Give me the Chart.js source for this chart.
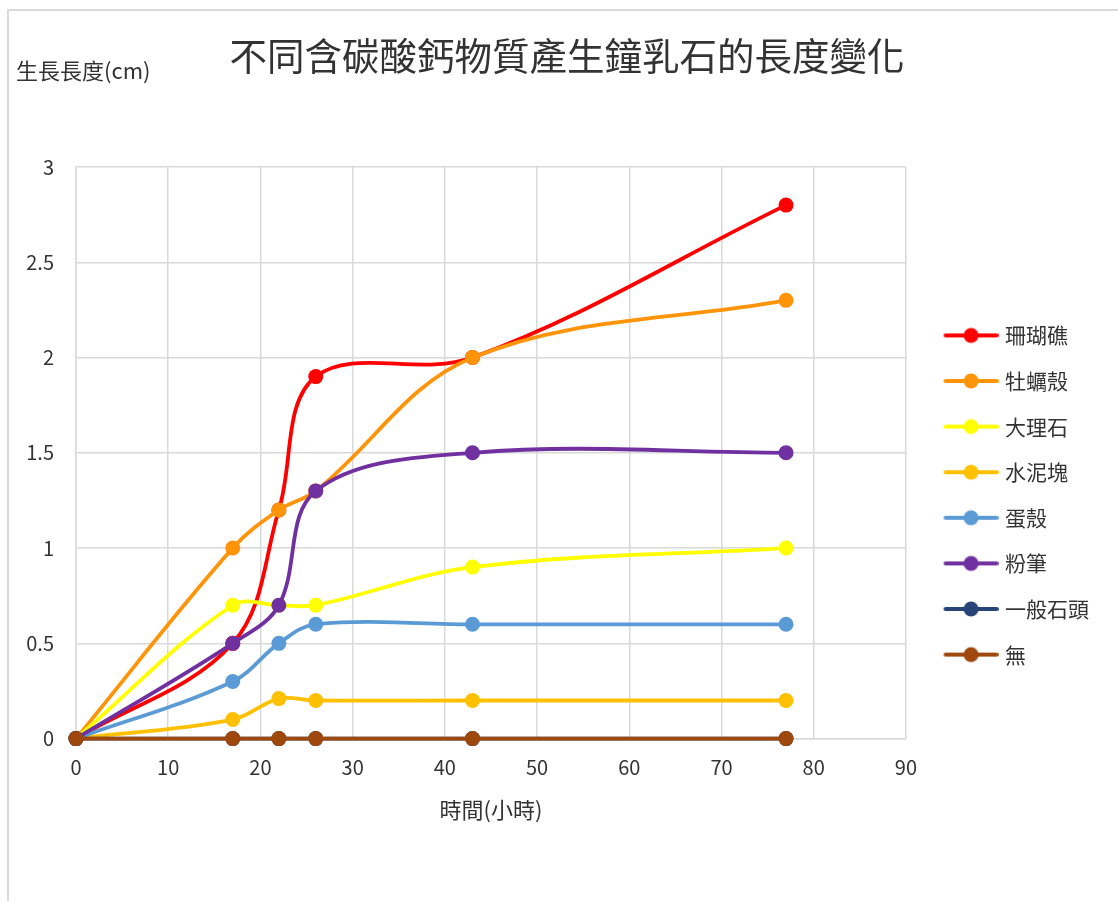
<!DOCTYPE html>
<html>
<head>
<meta charset="utf-8">
<script src="https://cdn.jsdelivr.net/npm/chart.js@4.4.0/dist/chart.umd.min.js"></script>
<style>
  body { margin: 0; background: #fff; }
  #wrap { width: 1118px; height: 901px; position: relative; }
</style>
</head>
<body>
<div id="wrap"><canvas id="chart"></canvas></div>
<script>
const hours = [0, 17, 22, 26, 43, 77];
const seriesNames = ['珊瑚礁', '牡蠣殼', '大理石', '水泥塊', '蛋殼', '粉筆', '一般石頭', '無'];
const coral = [0, 0.5, 1.2, 1.9, 2.0, 2.8];
const oyster = [0, 1.0, 1.2, 1.3, 2.0, 2.3];
const marble = [0, 0.7, 0.7, 0.7, 0.9, 1.0];
const cement = [0, 0.1, 0.21, 0.2, 0.2, 0.2];
const eggshell = [0, 0.3, 0.5, 0.6, 0.6, 0.6];
const chalk = [0, 0.5, 0.7, 1.3, 1.5, 1.5];
const stone = [0, 0, 0, 0, 0, 0];
const none = [0, 0, 0, 0, 0, 0];
const xTicks = [0, 10, 20, 30, 40, 50, 60, 70, 80, 90];
const yTicks = [0, 0.5, 1, 1.5, 2, 2.5, 3];

const colors = ['#FF0000', '#FF9408', '#FFFF00', '#FFC000', '#5B9BD5', '#7030A0', '#264478', '#9E480E'];
const allValues = [coral, oyster, marble, cement, eggshell, chalk, stone, none];

const cjk = "'Noto Sans CJK TC', 'Noto Sans', sans-serif";
const chartTitle = '不同含碳酸鈣物質產生鐘乳石的長度變化';
const yTitle = '生長長度(cm)';

// legend mark: line with a dot, sitting a bit to the right inside its box
function legendMark(color) {
  const c = document.createElement('canvas');
  c.width = 72; c.height = 18;
  const g = c.getContext('2d');
  g.strokeStyle = color;
  g.lineWidth = 4;
  g.lineCap = 'round';
  g.beginPath(); g.moveTo(19, 9); g.lineTo(70, 9); g.stroke();
  g.fillStyle = color;
  g.beginPath(); g.arc(44.5, 9, 7.5, 0, Math.PI * 2); g.fill();
  return c;
}

const datasets = seriesNames.map((name, i) => ({
  label: name,
  data: hours.map((h, j) => ({ x: h, y: allValues[i][j] })),
  borderColor: colors[i],
  backgroundColor: colors[i],
  borderWidth: 3.8,
  pointRadius: 7.5,
  pointHoverRadius: 7.5,
  pointBorderWidth: 0,
  showLine: true,
  tension: 0.36,
  clip: false,
  order: seriesNames.length - i
}));

const extras = {
  id: 'extras',
  beforeDraw(chart) {
    const ctx = chart.ctx;
    ctx.save();
    ctx.strokeStyle = '#d9d9d9';
    ctx.lineWidth = 2;
    ctx.beginPath();
    ctx.moveTo(8, 901); ctx.lineTo(8, 10); ctx.lineTo(1118, 10);
    ctx.stroke();
    ctx.fillStyle = '#333';
    ctx.textBaseline = 'middle';
    ctx.font = '22px ' + cjk;
    ctx.fillText(yTitle, 16, 71);
    ctx.font = '37.5px ' + cjk;
    ctx.textAlign = 'center';
    ctx.fillText(chartTitle, 567, 56);
    ctx.restore();
  }
};

new Chart(document.getElementById('chart'), {
  type: 'scatter',
  data: { datasets },
  plugins: [extras],
  options: {
    responsive: true,
    maintainAspectRatio: false,
    animation: false,
    layout: { padding: { left: 10, right: 19, top: 167, bottom: 78 } },
    plugins: {
      title: { display: false },
      legend: {
        position: 'right',
        labels: {
          color: '#333',
          font: { family: cjk, size: 21 },
          usePointStyle: true,
          pointStyleWidth: 64,
          padding: 24.6,
          sort: (a, b) => a.datasetIndex - b.datasetIndex,
          generateLabels(chart) {
            const items = Chart.defaults.plugins.legend.labels.generateLabels(chart);
            items.forEach(it => { it.pointStyle = legendMark(colors[it.datasetIndex]); });
            return items;
          }
        }
      },
      tooltip: { enabled: false }
    },
    scales: {
      x: {
        type: 'linear',
        min: 0, max: 90,
        afterBuildTicks: s => { s.ticks = xTicks.map(v => ({ value: v })); },
        grid: { color: '#d9d9d9', lineWidth: 1.5, drawTicks: false },
        border: { color: '#d9d9d9', width: 1.5 },
        ticks: { color: '#333', font: { family: cjk, size: 20 }, padding: 17, callback: v => String(v) },
        title: { display: true, text: '時間(小時)', color: '#333', font: { family: cjk, size: 22 }, padding: { top: 0, bottom: 0 } }
      },
      y: {
        min: 0, max: 3,
        afterBuildTicks: s => { s.ticks = yTicks.map(v => ({ value: v })); },
        afterFit: s => { s.width = 66; },
        grid: { color: '#d9d9d9', lineWidth: 1.5, drawTicks: false },
        border: { color: '#d9d9d9', width: 1.5 },
        ticks: { color: '#333', font: { family: cjk, size: 20 }, padding: 22, callback: v => String(v) }
      }
    }
  }
});
</script>
</body>
</html>
